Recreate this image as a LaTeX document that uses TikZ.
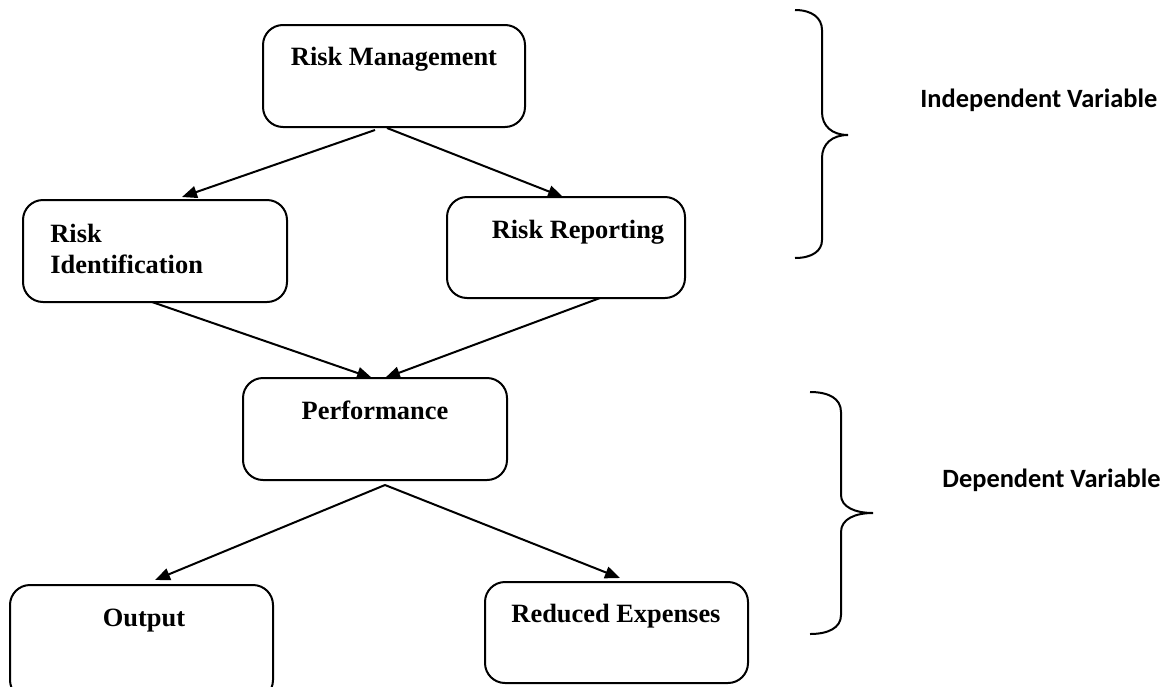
\documentclass[tikz,border=0pt]{standalone}
\usepackage{fontspec}
\setmainfont{Liberation Serif}
\newfontfamily\calibrifont{Carlito}
\usetikzlibrary{arrows.meta}
\begin{document}
\begin{tikzpicture}[x=0.5pt,y=-0.5pt,
  box/.style={draw,line width=1pt,rounded corners=10pt,inner sep=0pt},
  lbl/.style={font=\fontsize{13.2}{16}\selectfont\bfseries,inner sep=0pt},
  var/.style={font=\calibrifont\fontsize{13.2}{16}\selectfont\bfseries,inner sep=0pt,anchor=base west},
  arr/.style={line width=1pt,-{Triangle[length=7.5pt,width=6pt]}},
  bracepath/.style={line width=1pt}]
\useasboundingbox (0,0) rectangle (1166,686);
% boxes
\node[box,minimum width=131pt,minimum height=51pt] (rm) at (394,76) {};
\node[box,minimum width=132pt,minimum height=51pt] (ri) at (155,251) {};
\node[box,minimum width=119pt,minimum height=50.5pt] (rr) at (566,247.5) {};
\node[box,minimum width=132pt,minimum height=51pt] (pf) at (375,429) {};
\node[box,minimum width=131.5pt,minimum height=57.5pt] (op) at (141.5,642.5) {};
\node[box,minimum width=131.5pt,minimum height=50.5pt] (re) at (616.5,632.5) {};
% labels
\node[lbl,anchor=base] (rmt) at (394,65) {Risk Management};
\node[lbl,anchor=base west] (rit1) at (50,242) {Risk};
\node[lbl,anchor=base west] (rit2) at (50,273) {Identification};
\node[lbl,anchor=base] (rrt) at (578,238) {Risk Reporting};
\node[lbl,anchor=base] (pft) at (375,419) {Performance};
\node[lbl,anchor=base] (opt) at (144,626) {Output};
\node[lbl,anchor=base] (ret) at (616,622) {Reduced Expenses};
% connector end points
\coordinate (rmA) at (375,130);
\coordinate (rmB) at (387,128);
\coordinate (riT) at (182,197);
\coordinate (rrT) at (563,197);
\coordinate (riB) at (152,302);
\coordinate (rrB) at (600,298);
\coordinate (pfL) at (372,378);
\coordinate (pfR) at (385,378);
\coordinate (pfB) at (385,485);
\coordinate (opT) at (155,580);
\coordinate (reT) at (620,578);
\draw[arr] (rmA) -- (riT);
\draw[arr] (rmB) -- (rrT);
\draw[arr] (riB) -- (pfL);
\draw[arr] (rrB) -- (pfR);
\draw[arr] (pfB) -- (opT);
\draw[arr] (pfB) -- (reT);
% braces
\draw[bracepath] (795,10) .. controls (812,10) and (822,18) .. (822,30) -- (822,112) .. controls (822,126) and (832,135) .. (848,135) .. controls (832,135) and (822,144) .. (822,158) -- (822,240) .. controls (822,251) and (812,258) .. (795,258);
\draw[bracepath] (810,392) .. controls (828,392) and (841,398) .. (841,412) -- (841,495) .. controls (841,507) and (855,513) .. (873,513) .. controls (855,513) and (841,519) .. (841,532) -- (841,615) .. controls (841,628) and (828,634) .. (810,634);
% variable labels
\node[var] (iv) at (920,107) {Independent Variable};
\node[var] (dv) at (942,487) {Dependent Variable};
\end{tikzpicture}
\end{document}
